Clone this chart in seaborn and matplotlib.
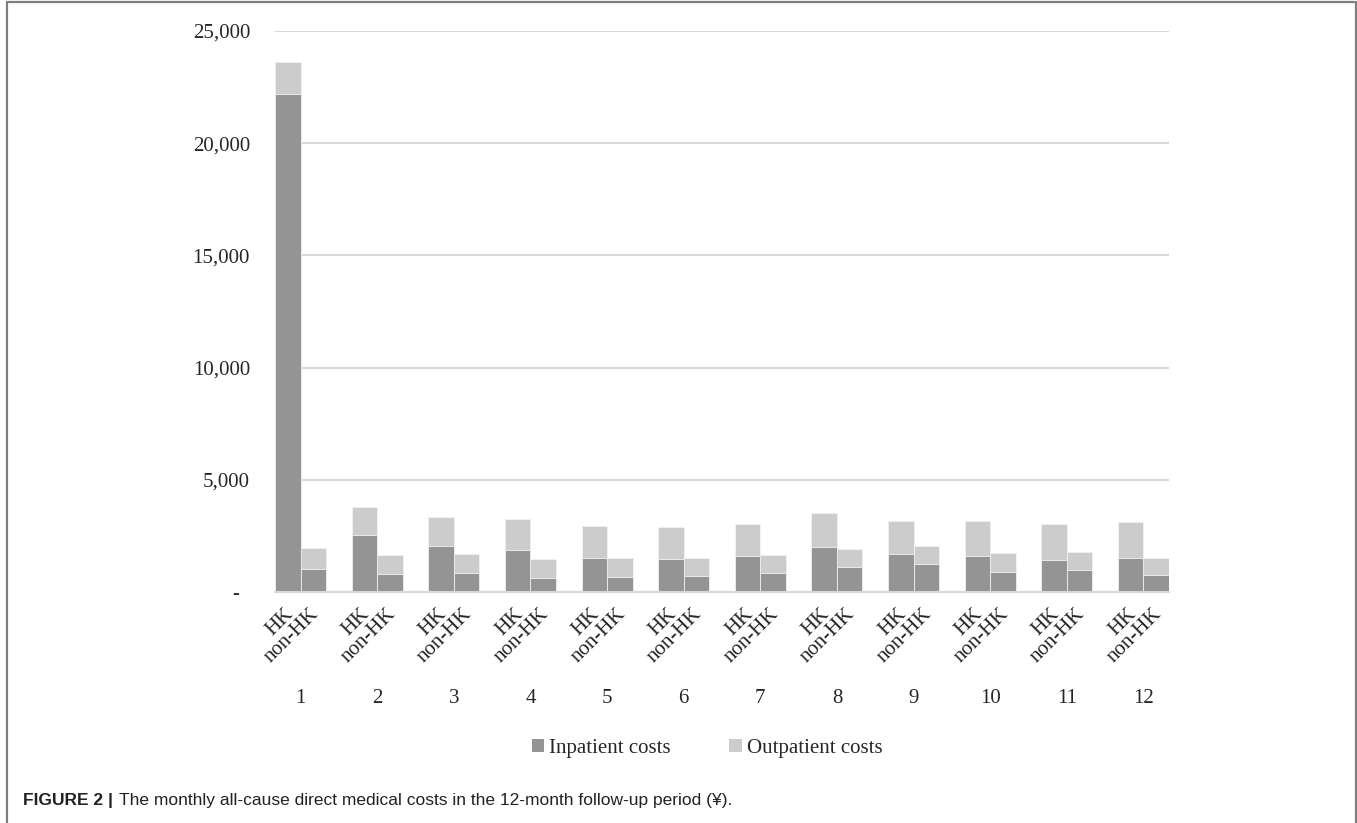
import matplotlib
matplotlib.use("Agg")
import matplotlib.pyplot as plt
from matplotlib.patches import Patch
from matplotlib.lines import Line2D
import numpy as np
import pandas as pd
import seaborn as sns

# Monthly direct medical costs (¥) over the 12-month follow-up
months = [str(m) for m in range(1, 13)]
groups = ["HK", "non-HK"]
hk_inpatient = [22200, 2520, 2060, 1880, 1510, 1470, 1620, 2020, 1700, 1610, 1410, 1530]
hk_outpatient = [1400, 1260, 1280, 1380, 1440, 1430, 1400, 1520, 1480, 1560, 1630, 1600]
nonhk_inpatient = [1040, 790, 855, 640, 685, 730, 850, 1115, 1250, 910, 980, 760]
nonhk_outpatient = [900, 870, 835, 820, 835, 790, 800, 820, 800, 815, 790, 775]
y_ticks = [0, 5000, 10000, 15000, 20000, 25000]

DARK = "#949494"
LIGHT = "#cccccc"
GRID = "#d9d9d9"

df = pd.DataFrame({
    "month": months * 2,
    "group": ["HK"] * 12 + ["non-HK"] * 12,
    "inpatient": hk_inpatient + nonhk_inpatient,
    "outpatient": hk_outpatient + nonhk_outpatient,
})
df["total"] = df["inpatient"] + df["outpatient"]

sns.set_style("white")
plt.rcParams["font.family"] = ["Liberation Serif", "DejaVu Serif"]

fig = plt.figure(figsize=(13.57, 8.23), dpi=100)
ax = fig.add_axes([275 / 1357, 1 - 592 / 823, (1169 - 275) / 1357, (592 - 31) / 823])

bar_width = 2 / 3
common = dict(data=df, x="month", hue="group", order=months, hue_order=groups,
              dodge=True, width=bar_width, legend=False, ax=ax,
              edgecolor="#f2f2f2", linewidth=0.6, saturation=1)
# stacked bars: full height in the outpatient shade, inpatient share on top
sns.barplot(y="total", palette=[LIGHT, LIGHT], **common)
sns.barplot(y="inpatient", palette=[DARK, DARK], **common)

ax.set_xlim(-bar_width / 2, len(months) - 1 + bar_width / 2)
ax.set_ylim(0, 25000)
ax.set_yticks(y_ticks)
ax.set_yticklabels(["-  " if v == 0 else f"{v:,}" for v in y_ticks])
ax.yaxis.grid(True, color=GRID, linewidth=1.5)
ax.set_axisbelow(True)
for side in ["top", "right", "left"]:
    ax.spines[side].set_visible(False)
ax.spines["bottom"].set_color(GRID)
ax.spines["bottom"].set_linewidth(1.5)
ax.tick_params(axis="y", length=0, pad=18, labelsize=15)
ax.tick_params(axis="x", length=0, pad=70, labelsize=15)
ax.set_xlabel("")
ax.set_ylabel("")

# group labels under each bar, slanted
for i in range(len(months)):
    for j, g in enumerate(groups):
        xc = i + (j - 0.5) * bar_width / 2
        ax.annotate(g, xy=(xc, 0), xycoords=("data", "axes fraction"),
                    xytext=(-3, -9), textcoords="offset points",
                    rotation=45, rotation_mode="anchor", ha="right", va="top",
                    fontsize=15)

handles = [Patch(facecolor=DARK, edgecolor="none", label="Inpatient costs"),
           Patch(facecolor=LIGHT, edgecolor="none", label="Outpatient costs")]
fig.legend(handles=handles, loc="center", bbox_to_anchor=(707 / 1357, 1 - 748 / 823),
           ncol=2, frameon=False, fontsize=15, handlelength=0.6, handleheight=0.6,
           handletextpad=0.25, columnspacing=2.8)

# figure frame (open at the bottom)
frame_kw = dict(color="#7f7f7f", linewidth=1.6, transform=fig.transFigure)
fig.add_artist(Line2D([7 / 1357, 7 / 1357], [0, 1 - 2 / 823], **frame_kw))
fig.add_artist(Line2D([7 / 1357, 1356 / 1357], [1 - 2 / 823, 1 - 2 / 823], **frame_kw))
fig.add_artist(Line2D([1356 / 1357, 1356 / 1357], [0, 1 - 2 / 823], **frame_kw))

# caption
cap_y = 1 - 800 / 823
cap_font = ["Liberation Sans", "DejaVu Sans"]
t1 = fig.text(23 / 1357, cap_y, "FIGURE 2 |", fontsize=12.5, fontweight="bold",
              family=cap_font, va="center", color="#222222")
renderer = fig.canvas.get_renderer()
bb = t1.get_window_extent(renderer=renderer)
fig.text((bb.x1 + 6) / fig.bbox.width, cap_y,
         "The monthly all-cause direct medical costs in the 12-month follow-up period (¥).",
         fontsize=12.5, family=cap_font, va="center", color="#222222")

fig.savefig("out.png", dpi=100)
